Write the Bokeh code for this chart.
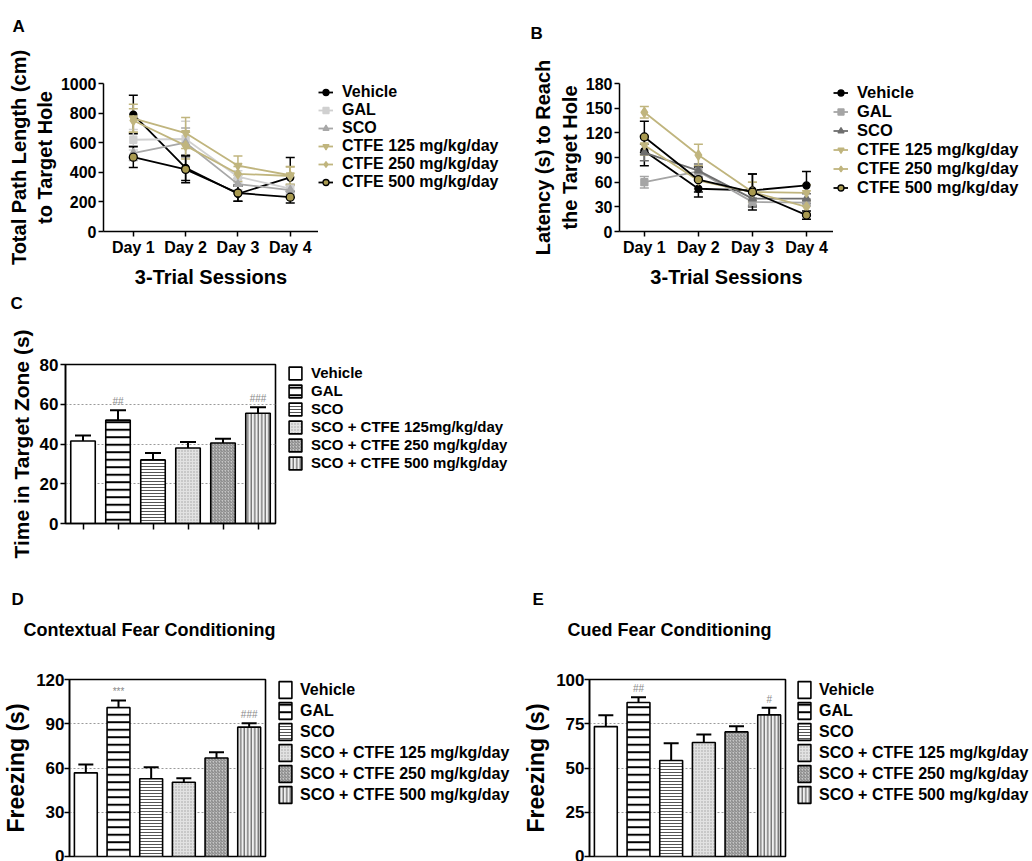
from bokeh.plotting import figure
from bokeh.layouts import column, row
from bokeh.models import (ColumnDataSource, Whisker, TeeHead, Legend, LegendItem,
                          Title, FixedTicker, Range1d)
from bokeh.core.properties import value
from bokeh.embed import file_html
from bokeh.resources import INLINE

# ---------------- data ----------------
days = ["Day 1", "Day 2", "Day 3", "Day 4"]
line_groups = ["Vehicle", "GAL", "SCO", "CTFE 125 mg/kg/day",
               "CTFE 250 mg/kg/day", "CTFE 500 mg/kg/day"]

# A: total path length (cm)
path_vehicle = [790, 430, 255, 365]
path_gal = [620, 625, 370, 290]
path_sco = [530, 600, 320, 280]
path_ctfe125 = [765, 665, 445, 380]
path_ctfe250 = [750, 580, 390, 375]
path_ctfe500 = [502, 420, 260, 232]
path_vehicle_err = [130, 85, 50, 135]
path_gal_err = [70, 120, 40, 30]
path_sco_err = [50, 100, 40, 30]
path_ctfe125_err = [95, 105, 65, 60]
path_ctfe250_err = [80, 90, 50, 60]
path_ctfe500_err = [70, 90, 55, 40]

# B: latency (s)
lat_vehicle = [98, 52, 50, 56]
lat_gal = [60, 73, 36, 35]
lat_sco = [96, 74, 40, 40]
lat_ctfe125 = [105, 62, 48, 47]
lat_ctfe250 = [145, 93, 48, 30]
lat_ctfe500 = [115, 63, 48, 20]
lat_vehicle_err = [18, 10, 20, 17]
lat_gal_err = [7, 6, 5, 4]
lat_sco_err = [10, 8, 8, 6]
lat_ctfe125_err = [12, 10, 12, 10]
lat_ctfe250_err = [7, 13, 12, 8]
lat_ctfe500_err = [19, 15, 22, 5]

# C: time in target zone (s)
bar_groups_c = ["Vehicle", "GAL", "SCO", "SCO + CTFE 125mg/kg/day",
                "SCO + CTFE 250 mg/kg/day", "SCO + CTFE 500 mg/kg/day"]
zone_time = [41.5, 52, 32, 38, 40.5, 55.5]
zone_time_err = [2.8, 5, 3.5, 3, 2.2, 3]
zone_marks = ["", "##", "", "", "", "###"]

# D / E: freezing (s)
bar_groups = ["Vehicle", "GAL", "SCO", "SCO + CTFE 125 mg/kg/day",
              "SCO + CTFE 250 mg/kg/day", "SCO + CTFE 500 mg/kg/day"]
freeze_context = [56.7, 101, 52.7, 50.3, 66.8, 87.7]
freeze_context_err = [5.7, 4.8, 7.8, 2.7, 3.9, 2.6]
freeze_context_marks = ["", "***", "", "", "", "###"]
freeze_cued = [73.4, 87, 54.2, 64.4, 70.4, 80]
freeze_cued_err = [6.4, 3, 9.8, 4.5, 3.2, 4]
freeze_cued_marks = ["", "##", "", "", "", "#"]

# ---------------- styles ----------------
FONT = "Liberation Sans"
KHAKI = "#c0b57e"
NAN = float("nan")

styles_a = [
    dict(marker="circle", line="black", fill="black", mline="black", size=7),
    dict(marker="square", line="#d0d0d0", fill="#d0d0d0", mline="#d0d0d0", size=7),
    dict(marker="triangle", line="#a8a8a8", fill="#a8a8a8", mline="#a8a8a8", size=8),
    dict(marker="inverted_triangle", line=KHAKI, fill=KHAKI, mline=KHAKI, size=8),
    dict(marker="diamond", line=KHAKI, fill=KHAKI, mline=KHAKI, size=10),
    dict(marker="circle", line="black", fill="#a99a50", mline="black", size=8),
]
styles_b = [
    dict(marker="circle", line="black", fill="black", mline="black", size=7),
    dict(marker="square", line="#a5a5a5", fill="#a5a5a5", mline="#a5a5a5", size=7),
    dict(marker="triangle", line="#6e6e6e", fill="#6e6e6e", mline="#6e6e6e", size=8),
    dict(marker="inverted_triangle", line=KHAKI, fill=KHAKI, mline=KHAKI, size=8),
    dict(marker="diamond", line=KHAKI, fill=KHAKI, mline=KHAKI, size=10),
    dict(marker="circle", line="black", fill="#a99a50", mline="black", size=8),
]

BAR_FILL = ["white", "white", "white", "#e2e2e2", "#c6c6c6", "#efefef"]
BAR_HATCH = [" ", "horizontal_line", "horizontal_line", "dot", "right_diagonal_line", "vertical_line"]
BAR_HSCALE = [4, 7.5, 3, 3, 3, 3.5]
BAR_HCOLOR = ["black", "black", "#555555", "#a0a0a0", "#808080", "#444444"]
BAR_HWEIGHT = [1, 2, 1, 1, 1, 1]


def make_fig(w, h, l, r, t, b, x_range, y_range):
    p = figure(width=w, height=h, min_border_left=l, min_border_right=r,
               min_border_top=t, min_border_bottom=b, x_range=x_range, y_range=y_range,
               output_backend="svg", toolbar_location=None, title=None)
    p.background_fill_color = "white"
    p.border_fill_color = "white"
    p.xgrid.visible = False
    p.ygrid.visible = False
    return p


def legend_fig(w, h):
    f = figure(width=w, height=h, x_range=Range1d(0, 1), y_range=Range1d(0, 1),
               x_axis_location=None, y_axis_location=None, min_border=0,
               output_backend="svg", toolbar_location=None, title=None)
    f.outline_line_color = None
    f.background_fill_color = "white"
    f.border_fill_color = "white"
    f.grid.visible = False
    return f


def make_legend(items, font_size, gw, gh, spacing, standoff):
    return Legend(items=items, location="top_left", orientation="vertical",
                  glyph_width=gw, glyph_height=gh, label_height=gh, spacing=spacing,
                  padding=0, margin=0, label_standoff=standoff,
                  label_text_font=FONT, label_text_font_size=font_size,
                  label_text_font_style="bold", label_text_color="black",
                  border_line_color=None, background_fill_color=None)


def style_axis(ax, tick_size, label_size, label_standoff=2, axis_standoff=5):
    ax.axis_line_color = "black"
    ax.axis_line_width = 1.5
    ax.major_tick_line_color = "black"
    ax.major_tick_line_width = 1.5
    ax.major_tick_in = 0
    ax.major_tick_out = 5
    ax.minor_tick_line_color = None
    ax.major_label_text_font = FONT
    ax.major_label_text_font_size = tick_size
    ax.major_label_text_font_style = "bold"
    ax.major_label_text_color = "black"
    ax.major_label_standoff = label_standoff
    ax.axis_label_text_font = FONT
    ax.axis_label_text_font_size = label_size
    ax.axis_label_text_font_style = "bold"
    ax.axis_label_text_color = "black"
    ax.axis_label_standoff = axis_standoff


def add_gap(p, size):
    # blank title used only as a fixed-size gap above the frame
    p.add_layout(Title(text=" ", text_font_size="1px", standoff=size - 3), "above")


def add_title(p, text, offset, standoff, size):
    p.add_layout(Title(text=text, align="left", offset=offset, standoff=standoff,
                       text_font=FONT, text_font_size=size, text_font_style="bold",
                       text_color="black"), "above")


def line_panel(p, leg_fig, series, errs, styles, font_size, pitch, standoff):
    xs = list(range(1, len(days) + 1))
    items = []
    for name, ys, es, st in zip(line_groups, series, errs, styles):
        src = ColumnDataSource(dict(x=xs, y=ys,
                                    lo=[y - e for y, e in zip(ys, es)],
                                    hi=[y + e for y, e in zip(ys, es)]))
        p.add_layout(Whisker(base="x", lower="lo", upper="hi", source=src, dimension="height",
                             line_color=st["line"], line_width=1.5,
                             lower_head=TeeHead(size=9, line_color=st["line"], line_width=1.5),
                             upper_head=TeeHead(size=9, line_color=st["line"], line_width=1.5)))
        p.line("x", "y", source=src, line_color=st["line"], line_width=1.8)
        p.scatter("x", "y", source=src, marker=st["marker"], size=st["size"],
                  fill_color=st["fill"], line_color=st["mline"], line_width=1.3)
        # legend keys live in the neighbouring legend figure (no visible data)
        lr = leg_fig.line(x=[NAN], y=[NAN], line_color=st["line"], line_width=1.8)
        sr = leg_fig.scatter(x=[NAN], y=[NAN], marker=st["marker"], size=st["size"],
                             fill_color=st["fill"], line_color=st["mline"], line_width=1.3)
        items.append(LegendItem(label=name, renderers=[lr, sr]))
    leg_fig.add_layout(make_legend(items, font_size, 15, pitch, 0, standoff))
    p.xaxis.ticker = FixedTicker(ticks=xs)
    p.xaxis.major_label_overrides = {x: d for x, d in zip(xs, days)}


def bar_panel(p, leg_fig, groups, vals, errs, marks, yticks, leg_size, gw, gh, spacing,
              standoff, cap):
    xs = list(range(len(groups)))
    src = ColumnDataSource(dict(x=xs, v=vals,
                                hi=[v + e for v, e in zip(vals, errs)],
                                ann=marks, fill=BAR_FILL, hatch=BAR_HATCH,
                                hscale=BAR_HSCALE, hcolor=BAR_HCOLOR, hweight=BAR_HWEIGHT))
    p.vbar(x="x", top="v", width=0.7, source=src, fill_color="fill",
           line_color="black", line_width=1.6, hatch_pattern="hatch",
           hatch_scale="hscale", hatch_color="hcolor", hatch_weight="hweight")
    p.add_layout(Whisker(base="x", lower="v", upper="hi", source=src, line_color="black",
                         line_width=2, lower_head=None,
                         upper_head=TeeHead(size=cap, line_color="black", line_width=2)))
    p.text(x="x", y="hi", text="ann", source=src, text_font=value(FONT),
           text_font_size="10px", text_color="#8a8a8a", text_align="center",
           text_baseline="bottom", y_offset=-3)
    items = []
    for i, g in enumerate(groups):
        r = leg_fig.vbar(x=[NAN], top=[NAN], width=0.7, fill_color=BAR_FILL[i],
                         line_color="black", line_width=1.6, hatch_pattern=BAR_HATCH[i],
                         hatch_scale=BAR_HSCALE[i], hatch_color=BAR_HCOLOR[i],
                         hatch_weight=BAR_HWEIGHT[i])
        items.append(LegendItem(label=g, renderers=[r]))
    leg_fig.add_layout(make_legend(items, leg_size, gw, gh, spacing, standoff))
    p.yaxis.ticker = FixedTicker(ticks=yticks)
    p.ygrid.ticker = p.yaxis[0].ticker
    p.ygrid.visible = True
    p.ygrid.grid_line_color = "#9a9a9a"
    p.ygrid.grid_line_dash = "2 2"
    p.ygrid.grid_line_width = 1
    p.outline_line_color = "black"
    p.outline_line_width = 1.6
    p.xaxis.ticker = FixedTicker(ticks=xs)
    p.xaxis.major_label_overrides = {x: "" for x in xs}
    p.xaxis.major_tick_out = 6
    p.xaxis.major_label_standoff = 0


# ---------------- Panel A ----------------
pA = make_fig(318, 290, 103, 0, 83, 57, Range1d(0.43, 4.54), Range1d(0, 1000))
lA = legend_fig(202, 290)
style_axis(pA.xaxis[0], "16px", "20px", 2, 7)
style_axis(pA.yaxis[0], "16px", "20px", 2, 2)
pA.xaxis.axis_label = "3-Trial Sessions"
pA.yaxis.axis_label = "Total Path Length (cm)\nto Target Hole"
pA.yaxis.ticker = FixedTicker(ticks=[0, 200, 400, 600, 800, 1000])
pA.outline_line_color = None
line_panel(pA, lA,
           [path_vehicle, path_gal, path_sco, path_ctfe125, path_ctfe250, path_ctfe500],
           [path_vehicle_err, path_gal_err, path_sco_err, path_ctfe125_err,
            path_ctfe250_err, path_ctfe500_err],
           styles_a, "16px", 18, 9)
add_gap(pA, 48)
add_title(pA, "A", -91, 0, "17px")

# ---------------- Panel B ----------------
pB = make_fig(313, 290, 99, 0, 73, 59, Range1d(0.54, 4.5), Range1d(0, 180))
lB = legend_fig(199, 290)
style_axis(pB.xaxis[0], "16px", "20px", 2, 7)
style_axis(pB.yaxis[0], "16px", "20px", 2, 2)
pB.xaxis.axis_label = "3-Trial Sessions"
pB.yaxis.axis_label = "Latency (s) to Reach\nthe Target Hole"
pB.yaxis.ticker = FixedTicker(ticks=[0, 30, 60, 90, 120, 150, 180])
pB.outline_line_color = None
line_panel(pB, lB,
           [lat_vehicle, lat_gal, lat_sco, lat_ctfe125, lat_ctfe250, lat_ctfe500],
           [lat_vehicle_err, lat_gal_err, lat_sco_err, lat_ctfe125_err,
            lat_ctfe250_err, lat_ctfe500_err],
           styles_b, "16.5px", 19, 9)
add_gap(pB, 41)
add_title(pB, "B", -89, 0, "17px")

# ---------------- Panel C ----------------
pC = make_fig(287, 285, 65, 12, 74, 52, Range1d(-0.5, 5.5), Range1d(0, 80))
lC = legend_fig(233, 285)
style_axis(pC.xaxis[0], "16px", "21px", 0, 0)
style_axis(pC.yaxis[0], "17px", "21px", 2, 4)
pC.yaxis.axis_label = "Time in Target Zone (s)"
bar_panel(pC, lC, bar_groups_c, zone_time, zone_time_err, zone_marks, [0, 20, 40, 60, 80],
          "15px", 16, 16, 1, 8, 16)
add_gap(pC, 52)
add_title(pC, "C", -55, 0, "17px")

# ---------------- Panel D ----------------
pD = make_fig(277, 286, 67, 12, 104, 5, Range1d(-0.5, 5.5), Range1d(0, 120))
lD = legend_fig(243, 286)
style_axis(pD.yaxis[0], "17px", "23px", 0, 4)
pD.yaxis.axis_label = "Freezing (s)"
bar_panel(pD, lD, bar_groups, freeze_context, freeze_context_err, freeze_context_marks,
          [0, 30, 60, 90, 120], "16px", 16, 21, 0, 7, 15)
pD.xaxis.visible = False
add_gap(pD, 40)
add_title(pD, "Contextual Fear Conditioning", -46, 0, "18px")
add_title(pD, "D", -58, 18, "17px")

# ---------------- Panel E ----------------
pE = make_fig(276, 286, 67, 11, 104, 5, Range1d(-0.5, 5.5), Range1d(0, 100))
lE = legend_fig(236, 286)
style_axis(pE.yaxis[0], "17px", "23px", 0, 4)
pE.yaxis.axis_label = "Freezing (s)"
bar_panel(pE, lE, bar_groups, freeze_cued, freeze_cued_err, freeze_cued_marks,
          [0, 25, 50, 75, 100], "16px", 16, 21, 0, 7, 15)
pE.xaxis.visible = False
add_gap(pE, 40)
add_title(pE, "Cued Fear Conditioning", -22, 0, "18px")
add_title(pE, "E", -57, 18, "17px")

layout = column(row(pA, lA, pB, lB), row(pC, lC), row(pD, lD, pE, lE))
open("out.html", "w").write(file_html(layout, INLINE))
